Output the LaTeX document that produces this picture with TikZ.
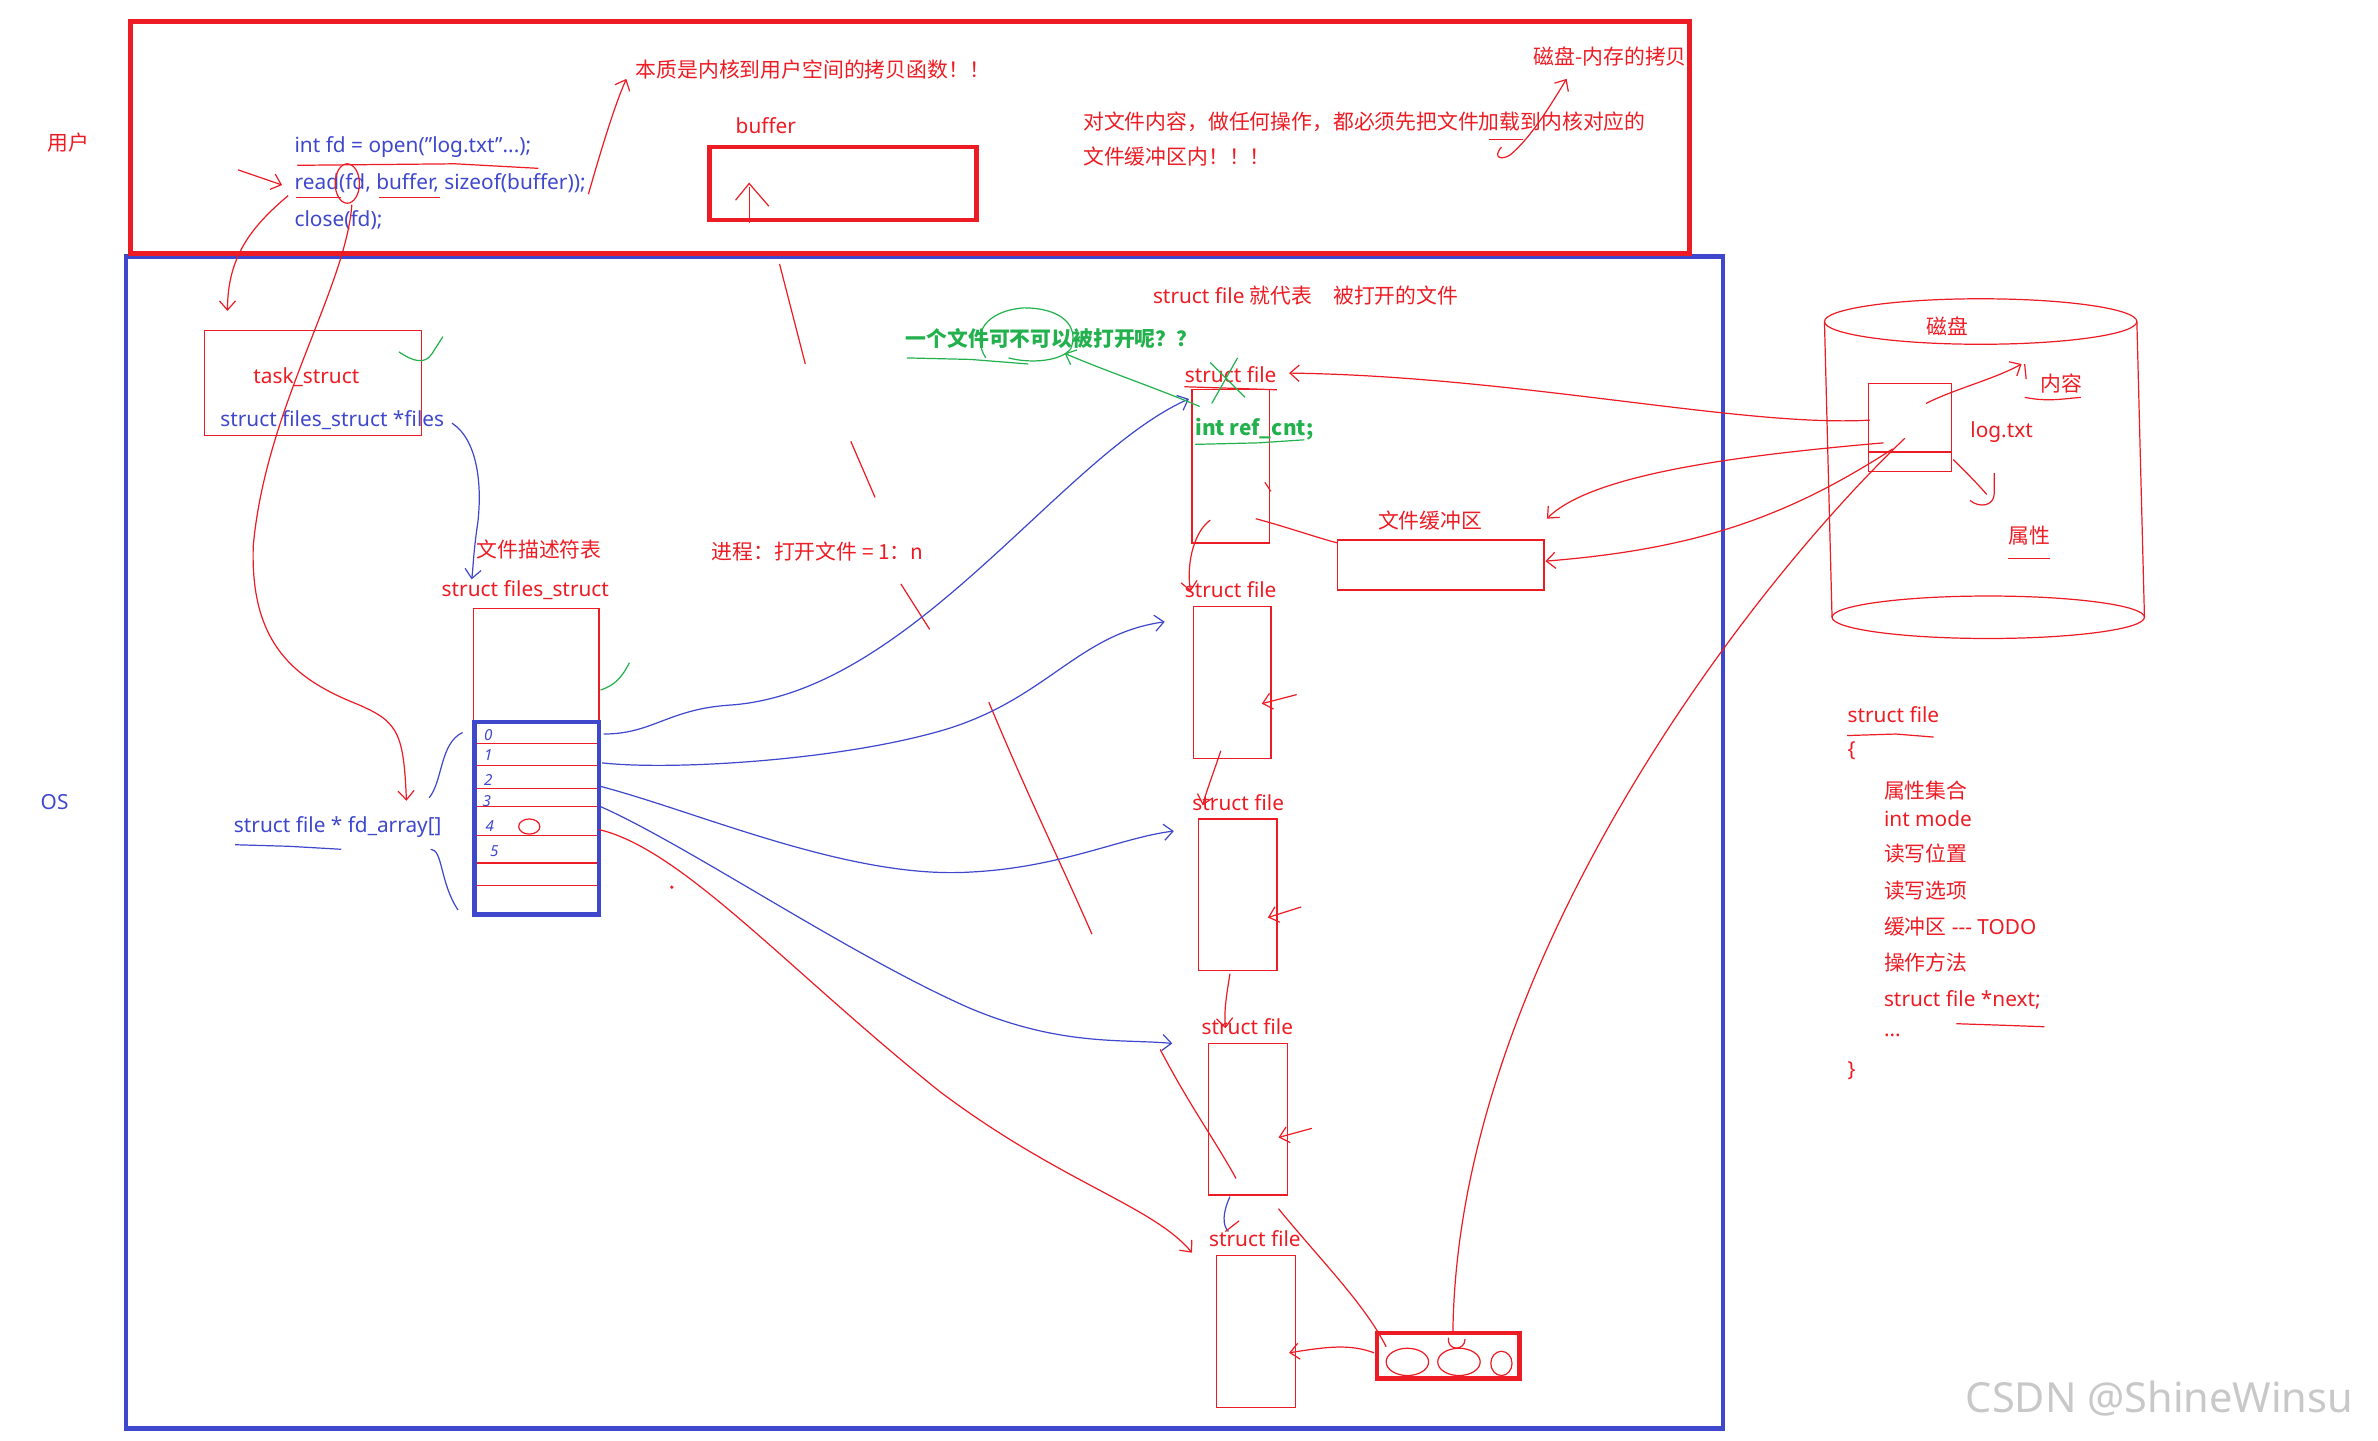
\documentclass[tikz,border=0pt]{standalone}
\usepackage{fontspec}
\setmainfont{Noto Sans}
\newfontfamily\cjk{Noto Sans CJK SC}
\usetikzlibrary{arrows.meta,fit}
\definecolor{pred}{HTML}{ED1C24}
\definecolor{pblue}{HTML}{3F48CC}
\definecolor{pgreen}{HTML}{22B14C}
\definecolor{wm}{HTML}{C8C8C8}
\begin{document}
\begin{tikzpicture}[x=0.75pt,y=-0.75pt,
  every node/.style={inner sep=0pt, font=\fontsize{10.3}{12}\selectfont},
  rt/.style={text=pred},
  bt/.style={text=pblue},
  gt/.style={text=pgreen, font=\fontsize{10.3}{12}\selectfont\cjk\bfseries},
  rl/.style={draw=pred, line width=0.6pt},
  bl/.style={draw=pblue, line width=0.6pt},
  gl/.style={draw=pgreen, line width=0.6pt},
  ha/.style={-{Straight Barb[length=4.5pt,width=8pt]}},
  thinbox/.style={draw=pred, line width=0.6pt},
  thickr/.style={draw=pred, line width=2.3pt},
  thickb/.style={draw=pblue, line width=2.3pt}]
\useasboundingbox (0,0) rectangle (1568,950);

% ---------- big frames ----------
\node[fit={(83,169)(1136,942)}, thickb] (osbox) {};
\node[fit={(86,14)(1114,167)}, thickr] (userbox) {};
\node[fit={(468,97)(644,145)}, thickr] (buf) {};
\node[fit={(135,218)(278,287)}, thinbox] (task) {};
\node[fit={(312,401)(395,603)}, thinbox] (fs) {};
\foreach \yy in {490,505,520,532,551,569,584} \draw[rl] (314,\yy) -- (394,\yy);
\node[fit={(313,476)(395,603)}, thickb] (fdarr) {};
\node[fit={(786,257)(837,358)}, thinbox] (sf1) {};
\node[fit={(787,400)(838,500)}, thinbox] (sf2) {};
\node[fit={(790,540)(842,640)}, thinbox] (sf3) {};
\node[fit={(797,688)(849,788)}, thinbox] (sf4) {};
\node[fit={(802,828)(854,928)}, thinbox] (sf5) {};
\node[fit={(882,356)(1018,389)}, thinbox] (kbuf) {};
\node[fit={(908,879)(1002,909)}, thickr] (pool) {};

% disk
\draw[rl] (1306,212) ellipse (103 and 15);
\draw[rl] (1311,407) ellipse (103 and 14);
\draw[rl] (1203,212) -- (1208,407);
\draw[rl] (1409,212) -- (1414,407);
\node[fit={(1203,197)(1414,421)}] (disk) {};
\node[fit={(1232,253)(1287,311)}, thinbox] (logf) {};
\draw[rl] (1232,298) -- (1287,298);

% ---------- texts ----------
\node[rt] (usr) at (45,94) {\cjk 用户};
\node[bt] (oslbl) at (36,529) {OS};
\node[bt, anchor=west] (code1) at (194,97) {int fd = open(\symbol{34}log.txt\symbol{34}...);};
\node[bt, anchor=west] (code2) at (194,121) {read(fd, buffer, sizeof(buffer));};
\node[bt, anchor=west] (code3) at (194,145) {close(fd);};
\node[rt] (buflbl) at (505,83) {buffer};
\node[rt, anchor=west] (note1) at (419,46) {\cjk 本质是内核到用户空间的拷贝函数！！};
\node[rt, anchor=west] (note2) at (714,80) {\cjk 对文件内容，做任何操作，都必须先把文件加载到内核对应的};
\node[rt, anchor=west] (note3) at (714,103) {\cjk 文件缓冲区内！！！};
\node[rt, anchor=west] (note4) at (1011,37) {\cjk 磁盘-内存的拷贝};
\node[rt, anchor=west] (rep) at (760,195) {struct file {\cjk 就代表\quad 被打开的文件}};
\node[gt, anchor=west] (q) at (597,223) {一个文件可不可以被打开呢？？};
\node[rt] (tasklbl) at (202,249) {task\_struct};
\node[bt, anchor=west] (files) at (145,277) {struct files\_struct *files};
\node[rt, anchor=west] (fdt) at (314,362) {\cjk 文件描述符表};
\node[rt, anchor=west] (fss) at (291,389) {struct files\_struct};
\node[rt, anchor=west] (proc) at (469,364) {\cjk 进程：打开文件 = 1：n};
\node[bt, anchor=west] (fda) at (154,545) {struct file * fd\_array[]};
\node[rt, anchor=west] (l1) at (781,247) {struct file};
\node[rt, anchor=west] (l2) at (781,389) {struct file};
\node[rt, anchor=west] (l3) at (786,529) {struct file};
\node[rt, anchor=west] (l4) at (792,677) {struct file};
\node[rt, anchor=west] (l5) at (797,817) {struct file};
\node[gt, anchor=west] (ref) at (788,283) {int ref\_cnt;};
\node[rt] (kbuflbl) at (943,343) {\cjk 文件缓冲区};
\node[rt] (disklbl) at (1284,215) {\cjk 磁盘};
\node[rt, anchor=west] (logtxt) at (1299,285) {log.txt};
\node[rt] (content) at (1359,253) {\cjk 内容};
\node[rt] (attr) at (1338,353) {\cjk 属性};

% digits in fd table
\begin{scope}[every node/.style={inner sep=0pt, text=pblue, font=\fontsize{7.5}{8}\selectfont\itshape}]
\node (d0) at (322,485) {0};
\node (d1) at (322,498) {1};
\node (d2) at (322,514) {2};
\node (d3) at (321,528) {3};
\node (d4) at (323,545) {4};
\node (d5) at (326,561) {5};
\end{scope}

% struct file listing
\node[rt, anchor=west] (s0) at (1218,471) {struct file};
\node[rt, anchor=west] (s1) at (1218,495) {\{};
\node[rt, anchor=west] (s2) at (1242,521) {\cjk 属性集合};
\node[rt, anchor=west] (s3) at (1242,540) {int mode};
\node[rt, anchor=west] (s4) at (1242,563) {\cjk 读写位置};
\node[rt, anchor=west] (s5) at (1242,587) {\cjk 读写选项};
\node[rt, anchor=west] (s6) at (1242,611) {{\cjk 缓冲区} -{}-{}- TODO};
\node[rt, anchor=west] (s7) at (1242,635) {\cjk 操作方法};
\node[rt, anchor=west] (s8) at (1242,659) {struct file *next;};
\node[rt, anchor=west] (s9) at (1242,683) {...};
\node[rt, anchor=west] (s10) at (1218,706) {\}};

\node[text=wm, anchor=west, font=\fontsize{20.5}{24}\selectfont] (wmk) at (1296,922) {CSDN @ShineWinsu};

% ---------- red hand connectors ----------
% user area
\draw[rl,ha] (388,128) .. controls (396,100) and (405,70) .. (413,52);
\draw[rl,ha] (157,112) -- (186,122);
\draw[rl] (196,109) -- (300,108) -- (355,111);
\draw[rl] (195,130) -- (225,130);
\draw[rl] (250,130) -- (290,130);
\draw[rl] (229,121) ellipse (8 and 13);
\draw[rl,ha] (190,129) .. controls (165,150) and (150,170) .. (150,205);
\draw[rl,ha] (232,135) .. controls (228,190) and (175,270) .. (167,360)
   .. controls (165,420) and (190,445) .. (230,462)
   .. controls (262,475) and (266,480) .. (268,528);
\draw[rl] (494,147) -- (494,123);
\draw[rl] (485,132) -- (494,121) -- (507,136);
% diagonal dashes from buffer down
\draw[rl] (514,174) -- (531,240);
\draw[rl] (561,291) -- (577,328);
\draw[rl] (594,385) -- (613,415);
\draw[rl] (652,463) .. controls (680,530) and (700,570) .. (720,616);
\draw[rl] (765,692) .. controls (785,730) and (800,750) .. (815,777);
% note arrow
\draw[rl] (982,92) -- (1004,92);
\draw[rl,ha] (990,97) .. controls (984,104) and (990,106) .. (996,102)
   .. controls (1010,90) and (1022,70) .. (1033,52);

% disk arrows
\draw[rl,ha] (1270,266) .. controls (1290,256) and (1315,250) .. (1333,240);
\draw[rl] (1335,240) -- (1336,250);
\draw[rl] (1288,303) .. controls (1295,310) and (1303,318) .. (1310,326);
\draw[rl] (1299,330) .. controls (1305,335) and (1315,334) .. (1315,325) -- (1315,312);
\draw[rl] (1335,262) .. controls (1350,265) and (1360,263) .. (1372,262);
\draw[rl] (1324,368) -- (1352,368);
\draw[rl] (1218,485) -- (1250,484) -- (1275,486);
\draw[rl] (1290,675) -- (1320,676) -- (1348,677);

% log.txt to kernel
\draw[rl,ha] (1233,277) .. controls (1150,282) and (1000,248) .. (850,246);
\draw[rl,ha] (1242,292) .. controls (1150,300) and (1050,312) .. (1020,342);
\draw[rl,ha] (1248,296) .. controls (1180,340) and (1120,362) .. (1019,370);
\draw[rl] (1256,289) .. controls (1150,390) and (960,640) .. (958,880);
\draw[rl] (955,882) .. controls (954,891) and (966,891) .. (966,883);

% struct file chain
\draw[rl] (781,255) -- (842,257);
\draw[rl] (828,342) .. controls (850,348) and (870,355) .. (882,358);
\draw[rl] (834,318) -- (838,324);
\draw[rl,ha] (798,343) .. controls (788,350) and (782,370) .. (785,390);
\draw[rl,ha] (805,495) .. controls (800,510) and (796,520) .. (793,531);
\draw[rl,ha] (811,642) .. controls (809,655) and (807,665) .. (808,678);
\draw[bl] (811,789) .. controls (806,800) and (806,808) .. (810,812);
\draw[rl] (808,812) -- (817,805);
\draw[rl,ha] (855,458) -- (832,464);
\draw[rl,ha] (858,598) -- (836,605);
\draw[rl,ha] (865,744) -- (843,750);
\draw[rl,ha] (906,892) .. controls (890,886) and (875,888) .. (850,892);
\draw[rl] (843,797) .. controls (870,830) and (900,860) .. (914,888);
\draw[rl] (928,898) ellipse (14 and 9);
\draw[rl] (962,898) ellipse (14 and 9);
\draw[rl] (990,899) ellipse (7 and 8);

% fd 4 -> last struct file
\draw[rl,ha] (395,547) .. controls (450,560) and (520,640) .. (620,720)
   .. controls (700,780) and (760,795) .. (786,826);
\fill[pred] (443,585) circle (1.2);
\draw[rl] (349,545) ellipse (7 and 5);

% ---------- blue connectors ----------
\draw[bl,ha] (298,279) .. controls (315,290) and (318,320) .. (315,345)
   .. controls (312,365) and (312,375) .. (311,382);
\draw[bl,ha] (398,484) .. controls (430,484) and (440,468) .. (480,465)
   .. controls (600,458) and (700,300) .. (784,263);
\draw[bl,ha] (397,503) .. controls (440,508) and (550,502) .. (620,482)
   .. controls (690,462) and (710,418) .. (768,410);
\draw[bl,ha] (394,518) .. controls (460,535) and (560,580) .. (640,575)
   .. controls (700,572) and (740,552) .. (774,548);
\draw[bl,ha] (394,531) .. controls (450,555) and (560,630) .. (640,665)
   .. controls (700,690) and (740,685) .. (773,688);
\draw[bl] (305,483) .. controls (290,490) and (292,515) .. (283,526);
\draw[bl] (284,560) .. controls (292,560) and (290,582) .. (302,600);
\draw[bl] (155,557) -- (190,558) -- (225,560);

% ---------- green ----------
\draw[gl] (263,232) .. controls (272,238) and (280,241) .. (285,233) -- (292,222);
\draw[gl] (396,455) .. controls (405,452) and (410,447) .. (415,437);
\draw[gl] (650,236) .. controls (640,220) and (650,205) .. (675,203)
   .. controls (700,203) and (712,215) .. (706,230) .. controls (700,238) and (680,240) .. (665,236);
\draw[gl] (598,236) -- (640,237) -- (678,240);
\draw[gl,ha] (791,268) .. controls (760,255) and (730,245) .. (702,233);
\draw[gl] (816,236) -- (799,266);
\draw[gl] (798,239) -- (821,262);
\draw[gl] (788,293) -- (830,292) -- (860,290);
\end{tikzpicture}
\end{document}
